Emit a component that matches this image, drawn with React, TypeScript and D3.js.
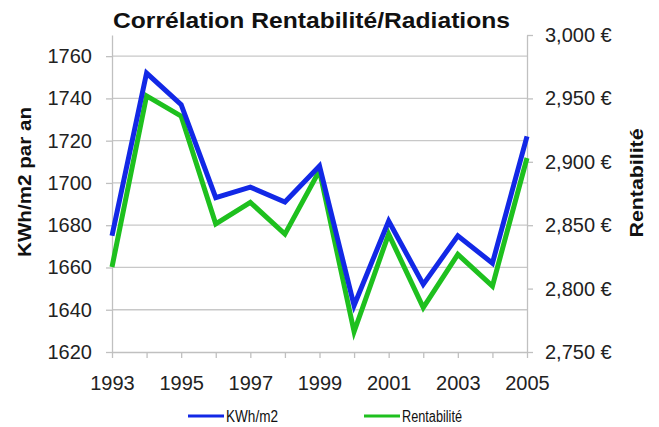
import { useEffect, useRef } from 'react';
import * as d3 from 'd3';

const years = [1993, 1994, 1995, 1996, 1997, 1998, 1999, 2000, 2001, 2002, 2003, 2004, 2005];
const kwh = [1675, 1752, 1737, 1693, 1698, 1691, 1708, 1642, 1682, 1652, 1675, 1662, 1722];
const rentabilite = [2817, 2952, 2936, 2851, 2868, 2843, 2893, 2766, 2843, 2785, 2827, 2802, 2903];
const leftTicks = [1620, 1640, 1660, 1680, 1700, 1720, 1740, 1760];
const rightTicks = [2750, 2800, 2850, 2900, 2950, 3000];
const xTickLabels = [1993, 1995, 1997, 1999, 2001, 2003, 2005];

export default function App() {
  const ref = useRef<SVGSVGElement>(null);

  useEffect(() => {
    const width = 659;
    const height = 427;
    const m = { top: 35, right: 132, bottom: 75, left: 112 };
    const font = '"Liberation Sans", Arial, sans-serif';

    const svg = d3.select(ref.current);
    svg.selectAll('*').remove();
    svg.append('rect').attr('width', width).attr('height', height).attr('fill', '#fff');

    const x = d3.scaleLinear().domain([1993, 2005]).range([m.left, width - m.right]);
    const yL = d3.scaleLinear().domain([1620, 1770]).range([height - m.bottom, m.top]);
    const yR = d3.scaleLinear().domain([2750, 3000]).range([height - m.bottom, m.top]);

    // gridlines
    svg.append('g')
      .selectAll('line')
      .data(leftTicks.slice(1))
      .join('line')
      .attr('x1', m.left).attr('x2', width - m.right)
      .attr('y1', d => yL(d)).attr('y2', d => yL(d))
      .attr('stroke', '#c8c8c8').attr('stroke-width', 1.3);

    const styleAxis = (g: any) => {
      g.select('.domain').attr('stroke', '#c0c0c0').attr('stroke-width', 1.3);
      g.selectAll('.tick line').attr('stroke', '#c0c0c0').attr('stroke-width', 1.3);
      g.selectAll('.tick text').attr('fill', '#222').attr('font-family', font).attr('font-size', 20);
    };

    svg.append('g')
      .attr('transform', `translate(${m.left},0)`)
      .call(d3.axisLeft(yL).tickValues(leftTicks).tickSize(6).tickSizeOuter(0).tickPadding(14).tickFormat(d3.format('d')))
      .call(styleAxis);

    svg.append('g')
      .attr('transform', `translate(${width - m.right},0)`)
      .call(d3.axisRight(yR).tickValues(rightTicks).tickSize(6).tickSizeOuter(0).tickPadding(12)
        .tickFormat(d => d3.format(',')(d as number) + ' €'))
      .call(styleAxis);

    svg.append('g')
      .attr('transform', `translate(0,${height - m.bottom})`)
      .call(d3.axisBottom(x).tickValues(years).tickSize(6).tickSizeOuter(0).tickPadding(18)
        .tickFormat(d => (xTickLabels.includes(d as number) ? String(d) : '')))
      .call(styleAxis);

    const lineL = d3.line<number>().x((_, i) => x(years[i])).y(d => yL(d));
    const lineR = d3.line<number>().x((_, i) => x(years[i])).y(d => yR(d));

    svg.append('path').datum(rentabilite)
      .attr('fill', 'none').attr('stroke', '#1ec01e').attr('stroke-width', 5)
      .attr('stroke-linejoin', 'miter').attr('d', lineR);
    svg.append('path').datum(kwh)
      .attr('fill', 'none').attr('stroke', '#1228e6').attr('stroke-width', 5)
      .attr('stroke-linejoin', 'miter').attr('d', lineL);

    // title and axis labels
    svg.append('text').attr('x', 311.5).attr('y', 28).attr('text-anchor', 'middle')
      .attr('font-family', font).attr('font-weight', 'bold').attr('font-size', 22).attr('fill', '#111')
      .attr('textLength', 397).attr('lengthAdjust', 'spacingAndGlyphs')
      .text('Corrélation Rentabilité/Radiations');

    svg.append('text').attr('transform', 'translate(31,182) rotate(-90)')
      .attr('text-anchor', 'middle').attr('font-family', font).attr('font-weight', 'bold')
      .attr('font-size', 18.5).attr('fill', '#111')
      .attr('textLength', 150).attr('lengthAdjust', 'spacingAndGlyphs')
      .text('KWh/m2 par an');

    svg.append('text').attr('transform', 'translate(643,183) rotate(-90)')
      .attr('text-anchor', 'middle').attr('font-family', font).attr('font-weight', 'bold')
      .attr('font-size', 18.5).attr('fill', '#111')
      .attr('textLength', 109).attr('lengthAdjust', 'spacingAndGlyphs')
      .text('Rentabilité');

    // legend
    const legend = [
      { name: 'KWh/m2', color: '#1228e6', x: 188, len: 52 },
      { name: 'Rentabilité', color: '#1ec01e', x: 364, len: 60 },
    ];
    const lg = svg.append('g').selectAll('g').data(legend).join('g')
      .attr('transform', d => `translate(${d.x},416)`);
    lg.append('line').attr('x1', 0).attr('x2', 36).attr('y1', 0).attr('y2', 0)
      .attr('stroke', d => d.color).attr('stroke-width', 3);
    lg.append('text').attr('x', 38).attr('y', 6).attr('font-family', font).attr('font-size', 16)
      .attr('fill', '#111').attr('textLength', d => d.len).attr('lengthAdjust', 'spacingAndGlyphs')
      .text(d => d.name);
  }, []);

  return <svg ref={ref} width={659} height={427} style={{ position: 'absolute', left: 0, top: 0 }} />;
}
